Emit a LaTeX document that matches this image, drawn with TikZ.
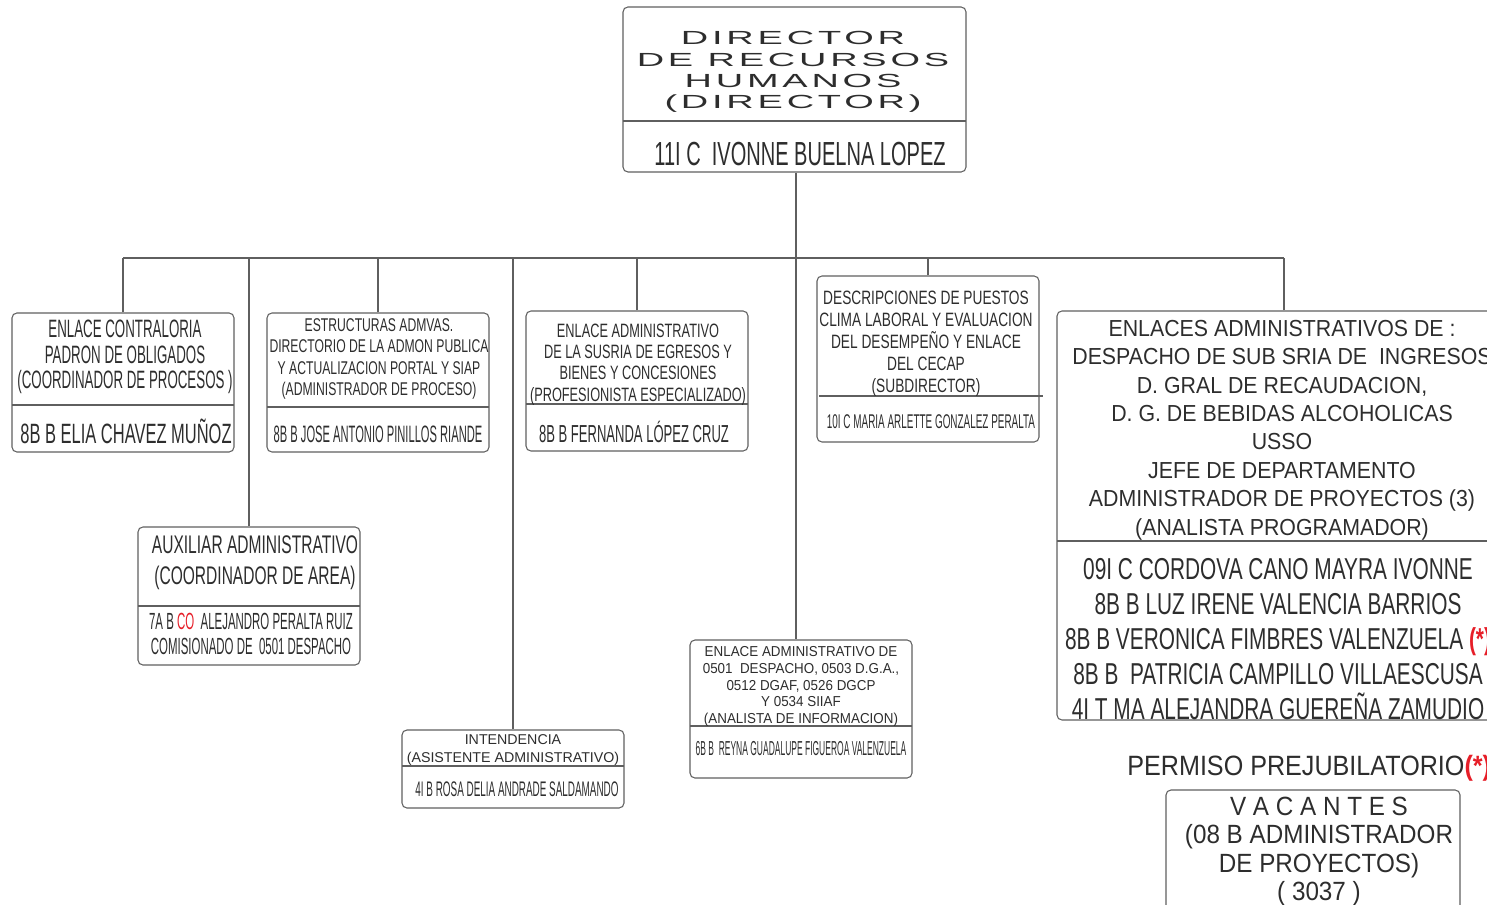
\documentclass[tikz,border=0pt]{standalone}
\usepackage{fontspec}
\usepackage{xcolor}
\setmainfont{Liberation Sans}
\newfontfamily\widefont[FakeStretch=2.0,LetterSpace=20]{Liberation Sans}
\usetikzlibrary{fit}
\definecolor{frame}{RGB}{95,95,95}
\definecolor{ink}{RGB}{45,45,45}
\definecolor{mark}{RGB}{230,30,40}
\newcommand{\narrow}[1]{\addfontfeature{FakeStretch=#1}}

\tikzset{
  card/.style={draw=frame, line width=0.6pt, rounded corners=2.8pt, inner sep=0pt},
  rule/.style={draw=frame, line width=0.6pt},
  link/.style={draw=frame, line width=0.6pt},
  txt/.style n args={3}{text=ink, align=center, inner sep=0pt,
    font=\fontsize{#1}{#2}\selectfont\narrow{#3}},
  wide/.style={text=ink, align=center, inner sep=0pt,
    font=\widefont\fontsize{10.8}{12.1}\selectfont},
}

\begin{document}
\begin{tikzpicture}[x=0.02cm,y=-0.02cm]
  \useasboundingbox (0,0) rectangle (1487,905);
  \clip (0,0) rectangle (1487,905);

  % Director
  \node[card, fit={(623,7) (966,172)}] (dir) {};
  \draw[rule] (623,121) -- (966,121);
  \node[wide] (dirtitle) at (793,72) {DIRECTOR\\DE RECURSOS\\HUMANOS\\(DIRECTOR)};
  \node[txt={19}{22}{0.6}] (dirname) at (800,154) {11I C\ \ IVONNE BUELNA LOPEZ};

  % First row of boxes
  \node[card, fit={(12,313) (234,452)}] (contra) {};
  \draw[rule] (12,405) -- (234,405);
  \node[txt={14.3}{14.5}{0.53}] at (125,357) {ENLACE CONTRALORIA\\PADRON DE OBLIGADOS\\(COORDINADOR DE PROCESOS )};
  \node[txt={15.9}{18}{0.59}] at (126,431) {8B B ELIA CHAVEZ MUÑOZ};

  \node[card, fit={(267,313) (489,452)}] (estru) {};
  \draw[rule] (267,407) -- (489,407);
  \node[txt={10.5}{12.1}{0.66}] at (379,359) {ESTRUCTURAS ADMVAS.\\DIRECTORIO DE LA ADMON PUBLICA\\Y ACTUALIZACION PORTAL Y SIAP\\(ADMINISTRADOR DE PROCESO)};
  \node[txt={13.5}{15}{0.47}] at (378,434) {8B B JOSE ANTONIO PINILLOS RIANDE};

  \node[card, fit={(526,311) (748,451)}] (egresos) {};
  \draw[rule] (526,404) -- (748,404);
  \node[txt={11}{12.1}{0.66}] at (638,364.5) {ENLACE ADMINISTRATIVO\\DE LA SUSRIA DE EGRESOS Y\\BIENES Y CONCESIONES\\(PROFESIONISTA ESPECIALIZADO)};
  \node[txt={14}{16}{0.53}] at (634,432) {8B B FERNANDA LÓPEZ CRUZ};

  \node[card, fit={(817,276) (1039,442)}] (desc) {};
  \draw[rule] (819,396) -- (1043,396);
  \node[txt={11}{12.5}{0.71}] at (926,343.5) {DESCRIPCIONES DE PUESTOS\\CLIMA LABORAL Y EVALUACION\\DEL DESEMPEÑO Y ENLACE\\DEL CECAP\\(SUBDIRECTOR)};
  \node[txt={11.3}{13}{0.5}] at (931,422) {10I C MARIA ARLETTE GONZALEZ PERALTA};

  \node[card, fit={(1057,311) (1511,720)}] (enlaces) {};
  \draw[rule] (1057,541) -- (1487,541);
  \node[txt={13.2}{16.2}{0.92}] at (1282,430) {ENLACES ADMINISTRATIVOS DE :\\DESPACHO DE SUB SRIA DE\ \ INGRESOS\\D. GRAL DE RECAUDACION,\\D. G. DE BEBIDAS ALCOHOLICAS\\USSO\\JEFE DE DEPARTAMENTO\\ADMINISTRADOR DE PROYECTOS (3)\\(ANALISTA PROGRAMADOR)};
  \node[txt={17.2}{19.9}{0.69}] at (1278,639) {09I C CORDOVA CANO MAYRA IVONNE\\8B B LUZ IRENE VALENCIA BARRIOS\\8B B VERONICA FIMBRES VALENZUELA {\color{mark}\bfseries(*)}\\8B B\ \ PATRICIA CAMPILLO VILLAESCUSA\\4I T MA ALEJANDRA GUEREÑA ZAMUDIO};

  % Lower boxes
  \node[card, fit={(138,527) (360,665)}] (aux) {};
  \draw[rule] (138,606) -- (360,606);
  \node[txt={14.5}{17.6}{0.61}] at (255,563) {AUXILIAR ADMINISTRATIVO\\(COORDINADOR DE AREA)};
  \node[txt={13.3}{14.2}{0.49}] at (251,633.5) {7A B {\color{mark}CO}\ \ ALEJANDRO PERALTA RUIZ\\COMISIONADO DE\ \ 0501 DESPACHO};

  \node[card, fit={(402,730) (624,808)}] (intend) {};
  \draw[rule] (402,766) -- (624,766);
  \node[txt={8.1}{9.7}{1}] at (513,750) {INTENDENCIA\\(ASISTENTE ADMINISTRATIVO)};
  \node[txt={12}{14}{0.47}] at (517,789) {4I B ROSA DELIA ANDRADE SALDAMANDO};

  \node[card, fit={(690,640) (912,778)}] (enlace) {};
  \draw[rule] (690,726) -- (912,726);
  \node[txt={8.2}{9.5}{0.93}] at (801,686.5) {ENLACE ADMINISTRATIVO DE\\0501\ \ DESPACHO, 0503 D.G.A.,\\0512 DGAF, 0526 DGCP\\Y 0534 SIIAF\\(ANALISTA DE INFORMACION)};
  \node[txt={11.5}{13}{0.42}] at (801,749) {6B B\ \ REYNA GUADALUPE FIGUEROA VALENZUELA};

  % Right column notes
  \node[txt={15.9}{18}{0.9}, anchor=west] (permiso) at (1127,768) {PERMISO PREJUBILATORIO{\color{mark}\bfseries(*)}};
  \node[card, fit={(1166,790) (1460,915)}] (vacantes) {};
  \node[txt={15}{16.1}{0.92}] at (1319,851.5) {V A C A N T E S\\(08 B ADMINISTRADOR\\DE PROYECTOS)\\( 3037 )};

  % Connectors
  \coordinate (hub) at (796,258);
  \draw[link] (dir.south -| hub) -- (hub);
  \draw[link] (contra.north |- hub) -- (enlaces.north |- hub);
  \foreach \b in {contra,aux,estru,intend,egresos,desc,enlaces}
    \draw[link] (\b.north) -- (\b.north |- hub);
  \draw[link] (hub) -- (hub |- enlace.north);
\end{tikzpicture}
\end{document}
